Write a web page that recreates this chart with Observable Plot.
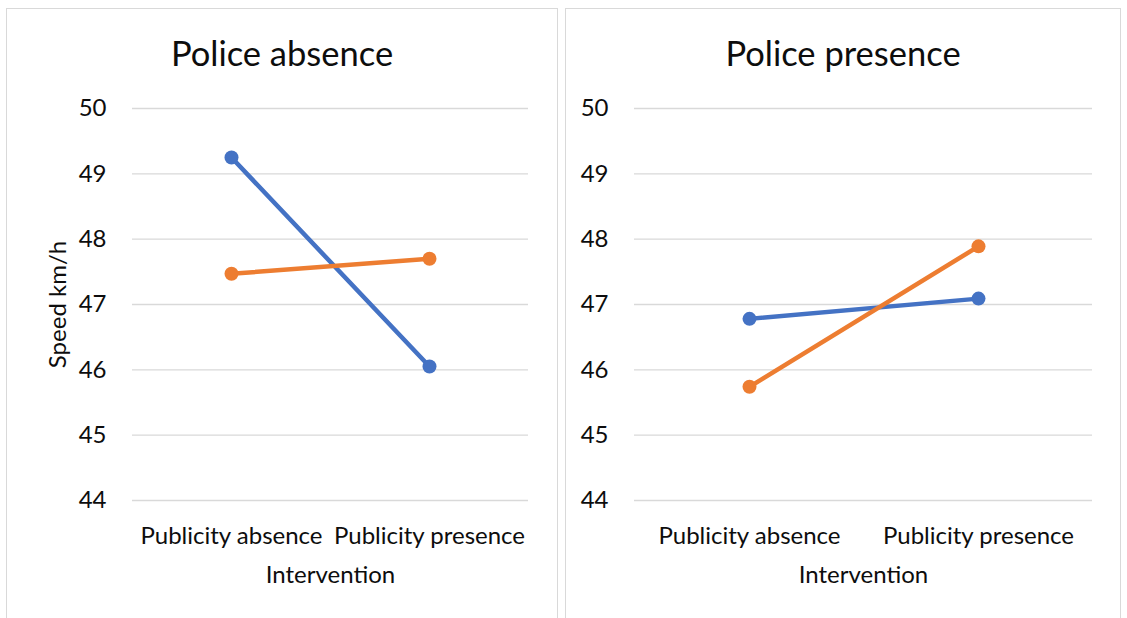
<!DOCTYPE html>
<html>
<head>
<meta charset="utf-8">
<script src="https://cdn.jsdelivr.net/npm/d3@7"></script>
<script src="https://cdn.jsdelivr.net/npm/@observablehq/plot@0.6"></script>
<style>
  body { margin: 0; background: #fff; font-family: Lato, sans-serif; }
  .panel { position: absolute; box-sizing: border-box; border: 1px solid #d9d9d9; height: 640px; overflow: hidden; background: #fff; }
  .panel .title { position: absolute; left: 0; right: 0; text-align: center; font-size: 34.5px; line-height: 34px; color: #0d0d0d; white-space: nowrap; }
  .panel svg { position: absolute; left: 0; top: 0; }
</style>
</head>
<body>
<div id="left" class="panel" style="left:6px; top:8px; width:552px;"></div>
<div id="right" class="panel" style="left:565px; top:8px; width:556px;"></div>
<script>
// Mean speed (km/h) by publicity intervention, split by police condition
const interventions = ["Publicity absence", "Publicity presence"];
const seriesNames = ["Series1", "Series2"];
const seriesColors = ["#4472c4", "#ed7d31"];
const policeAbsenceSeries1 = [49.25, 46.05];
const policeAbsenceSeries2 = [47.47, 47.70];
const policePresenceSeries1 = [46.78, 47.09];
const policePresenceSeries2 = [45.74, 47.89];
const yTicks = [44, 45, 46, 47, 48, 49, 50];
const panelTitles = ["Police absence", "Police presence"];
const yLabel = "Speed km/h";
const xLabel = "Intervention";

function rows(s1, s2) {
  const out = [];
  [s1, s2].forEach((vals, i) => vals.forEach((v, j) => out.push({intervention: interventions[j], series: seriesNames[i], speed: v})));
  return out;
}

function panel(el, title, data, cfg) {
  const t = document.createElement("div");
  t.className = "title";
  t.style.top = "27px";
  t.textContent = title;
  el.appendChild(t);
  const chart = Plot.plot({
    width: cfg.width,
    height: 600,
    marginLeft: cfg.marginLeft,
    marginRight: cfg.marginRight,
    marginTop: 99,
    marginBottom: 109,
    style: {fontFamily: "Lato, sans-serif", fontSize: "24px", color: "#0d0d0d", background: "none", overflow: "visible"},
    x: {type: "point", domain: interventions, padding: 0.5},
    y: {domain: [44, 50]},
    color: {domain: seriesNames, range: seriesColors},
    marks: [
      Plot.ruleY(yTicks, {stroke: "#d9d9d9", strokeWidth: 1.3}),
      Plot.axisY({ticks: yTicks, tickFormat: "d", tickSize: 0, tickPadding: 26, fontSize: 24,
        label: cfg.showYLabel ? yLabel : null, labelAnchor: "center", labelArrow: "none", labelOffset: 84}),
      Plot.axisX({tickSize: 0, tickPadding: 26, fontSize: 24, label: xLabel, labelAnchor: "center",
        labelArrow: "none", labelOffset: 82}),
      Plot.line(data, {x: "intervention", y: "speed", z: "series", stroke: "series", strokeWidth: 4.5}),
      Plot.dot(data, {x: "intervention", y: "speed", fill: "series", r: 7})
    ]
  });
  el.appendChild(chart);
}

panel(document.getElementById("left"), panelTitles[0], rows(policeAbsenceSeries1, policeAbsenceSeries2),
  {width: 550, marginLeft: 125, marginRight: 29, showYLabel: true});
panel(document.getElementById("right"), panelTitles[1], rows(policePresenceSeries1, policePresenceSeries2),
  {width: 554, marginLeft: 68, marginRight: 28, showYLabel: false});
</script>
</body>
</html>
